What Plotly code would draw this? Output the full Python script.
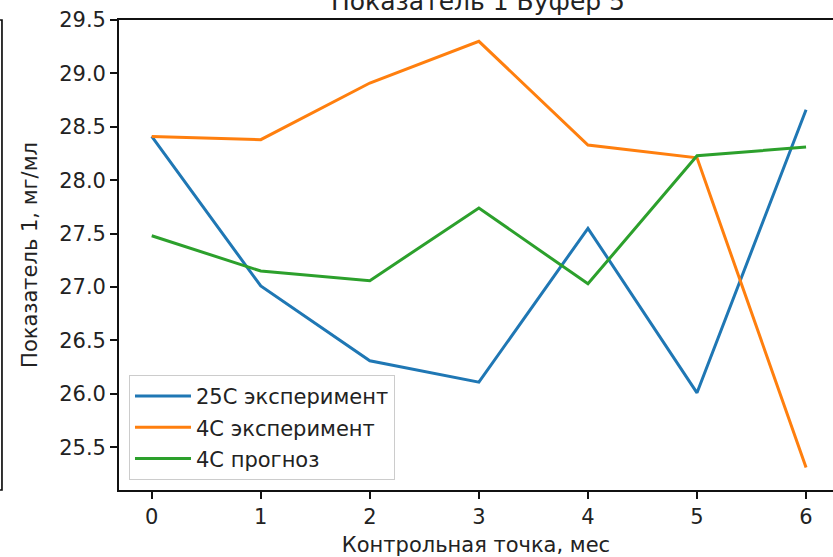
import plotly.graph_objects as go

# Control points (months) and measured / predicted values, mg/ml
months = [0, 1, 2, 3, 4, 5, 6]
exp_25c = [28.41, 27.01, 26.31, 26.11, 27.55, 26.01, 28.66]
exp_4c = [28.41, 28.38, 28.91, 29.30, 28.33, 28.21, 25.31]
forecast_4c = [27.48, 27.15, 27.06, 27.74, 27.03, 28.23, 28.31]

series_names = ["25C эксперимент", "4C эксперимент", "4C прогноз"]
series_colors = ["#1f77b4", "#ff7f0e", "#2ca02c"]
y_ticks = [25.5, 26.0, 26.5, 27.0, 27.5, 28.0, 28.5, 29.0, 29.5]

title_text = "Показатель 1 Буфер 5"
x_title = "Контрольная точка, мес"
y_title = "Показатель 1, мг/мл"

FONT = "DejaVu Sans"
TXT = "#222222"
FS = 21

fig = go.Figure()
for i, (name, vals, col) in enumerate(zip(series_names, [exp_25c, exp_4c, forecast_4c], series_colors)):
    fig.add_trace(go.Scatter(
        x=months, y=vals, mode="lines", name=name,
        line=dict(color=col, width=3),
        legendgroup=f"g{i}",
    ))

fig.update_layout(
    width=833, height=557,
    margin=dict(l=119, r=0, t=20, b=67),
    paper_bgcolor="white", plot_bgcolor="white",
    font=dict(family=FONT, size=FS, color=TXT),
    showlegend=True,
    legend=dict(
        x=0.014, y=0.245, xanchor="left", yanchor="top",
        bgcolor="rgba(255,255,255,0.8)", bordercolor="#cccccc", borderwidth=1,
        font=dict(family=FONT, size=FS, color=TXT),
        tracegroupgap=1, itemwidth=56,
    ),
    xaxis=dict(
        range=[-0.3, 6.247], tickmode="array", tickvals=months,
        ticktext=[str(m) for m in months],
        showgrid=False, zeroline=False,
        showline=True, linecolor="#111111", linewidth=1.7, mirror=True,
        ticks="outside", ticklen=7, tickwidth=1.7, tickcolor="#111111",
        title=dict(text=x_title, standoff=9, font=dict(size=FS, color=TXT)),
    ),
    yaxis=dict(
        range=[25.1, 29.5], tickmode="array", tickvals=y_ticks,
        ticktext=[f"{v:.1f}" for v in y_ticks],
        showgrid=False, zeroline=False,
        showline=True, linecolor="#111111", linewidth=1.7, mirror=False,
        ticks="outside", ticklen=7, tickwidth=1.7, tickcolor="#111111",
        title=dict(text=y_title, standoff=16, font=dict(size=FS, color=TXT)),
    ),
)

# Title above the axes
fig.add_annotation(
    text=title_text, xref="paper", yref="paper", x=0.503, y=1,
    xanchor="center", yanchor="bottom", yshift=2, showarrow=False,
    font=dict(family=FONT, size=25, color=TXT),
)

# Edge of the neighbouring panel on the left
fig.add_shape(
    type="rect", xref="paper", yref="paper",
    x0=-0.2, x1=-0.1639, y0=0, y1=1,
    line=dict(color="#111111", width=1.7), fillcolor="rgba(0,0,0,0)",
)

fig.write_html("out.html")
